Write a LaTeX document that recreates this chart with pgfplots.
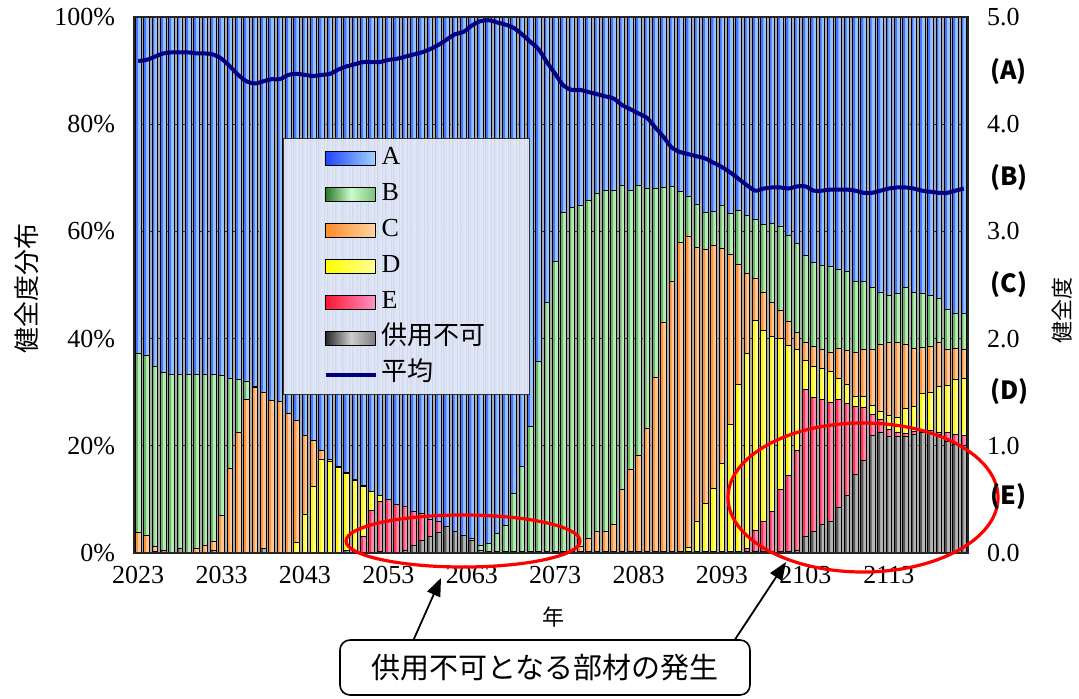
\documentclass[border=0pt]{standalone}
\usepackage{pgfplots}
\pgfplotsset{compat=1.18}
\usepackage{pgfplotstable}
\usetikzlibrary{arrows.meta}
\usepackage{fontspec}
\setmainfont{Liberation Serif}
\newfontfamily\cjk{Noto Sans CJK JP}

% legend swatch gradients
\definecolor{cAl}{RGB}{30,70,255}
\definecolor{cAr}{RGB}{165,210,255}
\definecolor{cBl}{RGB}{40,120,40}
\definecolor{cBm}{RGB}{205,250,205}
\definecolor{cBr}{RGB}{120,195,120}
\definecolor{cCl}{RGB}{255,140,40}
\definecolor{cCr}{RGB}{255,212,165}
\definecolor{cDl}{RGB}{255,255,0}
\definecolor{cDr}{RGB}{255,255,150}
\definecolor{cEl}{RGB}{255,20,50}
\definecolor{cEr}{RGB}{255,150,200}
\definecolor{cGl}{RGB}{40,40,40}
\definecolor{cGm}{RGB}{205,205,205}
\definecolor{cGr}{RGB}{125,125,125}
% bar tones: base (light) and strip (dark, left side)
\definecolor{bA}{RGB}{150,195,255}
\definecolor{sA}{RGB}{70,115,255}
\definecolor{bB}{RGB}{182,236,182}
\definecolor{sB}{RGB}{105,180,105}
\definecolor{bC}{RGB}{255,200,150}
\definecolor{sC}{RGB}{255,145,55}
\definecolor{bD}{RGB}{255,255,135}
\definecolor{sD}{RGB}{255,245,0}
\definecolor{bE}{RGB}{255,140,180}
\definecolor{sE}{RGB}{255,55,85}
\definecolor{bG}{RGB}{180,180,180}
\definecolor{sG}{RGB}{85,85,85}
\definecolor{navyline}{RGB}{0,0,128}
\definecolor{legbg}{RGB}{228,234,248}
\definecolor{gapgray}{RGB}{170,170,170}

\tikzset{
 shA/.style={left color=cAl, right color=cAr},
 shB/.style={left color=cBl, right color=cBr, middle color=cBm},
 shC/.style={left color=cCl, right color=cCr},
 shD/.style={left color=cDl, right color=cDr},
 shE/.style={left color=cEl, right color=cEr},
 shG/.style={left color=cGl, right color=cGr, middle color=cGm},
}

\pgfplotstableread{
x G E D C B A L
0 0 0 0 3.9 33.4 62.7 4.59
1 0 0 0 3.2 33.6 63.2 4.60
2 0.3 0 0 1.0 33.5 65.2 4.63
3 0.5 0 0 0 33.2 66.3 4.66
4 0 0 0 0 33.4 66.6 4.67
5 0.8 0 0 0 32.6 66.6 4.67
6 0 0 0 0 33.4 66.6 4.67
7 0 0 0 0.8 32.6 66.6 4.66
8 0 0 0 1.5 31.9 66.6 4.66
9 0.5 0 0 1.7 31.2 66.6 4.65
10 0 0 0 7.0 26.2 66.8 4.61
11 0 0 0 15.8 16.8 67.4 4.54
12 0 0 0 22.4 9.9 67.7 4.46
13 0 0 0 28.6 3.5 67.9 4.40
14 0 0 0 30.8 0.2 69.0 4.38
15 0.8 0 0 29.2 0 70.0 4.40
16 0 0 0 28.4 0 71.6 4.42
17 0 0 0 28.2 0 71.8 4.42
18 0 0 0 26.0 0 74.0 4.46
19 0 0 2.0 22.8 0 75.2 4.47
20 0 0 7.2 14.8 0 78.0 4.46
21 0 0 12.5 8.5 0 79.0 4.45
22 0 0 17.4 1.8 0 80.8 4.46
23 0 0 17.1 0.4 0 82.5 4.47
24 0 0 16.0 0.2 0 83.8 4.51
25 0.5 0 14.4 0.1 0 85.0 4.54
26 0 0 13.6 0.2 0 86.2 4.56
27 0 3.0 9.4 0.2 0 87.4 4.58
28 0 7.9 3.5 0.1 0 88.5 4.58
29 0.3 9.3 1.2 0 0 89.2 4.58
30 0 10.0 0 0 0 90.0 4.60
31 0 9.1 0 0 0 90.9 4.61
32 0.5 8.1 0 0 0 91.4 4.63
33 1.5 6.2 0 0 0 92.3 4.65
34 2.4 5.0 0 0 0 92.6 4.67
35 3.0 3.3 0 0 0 93.7 4.70
36 3.8 2.0 0 0 0 94.2 4.74
37 4.9 0 0 0 0 95.1 4.79
38 4.0 0 0 0 0 96.0 4.84
39 3.2 0 0 0 0 96.8 4.86
40 2.4 0 0 0 0.3 97.3 4.92
41 0.5 0 0 0 1.0 98.5 4.96
42 0.3 0 0 0 1.5 98.2 4.97
43 0.3 0 0 0 3.4 96.3 4.95
44 0.3 0 0 0 4.9 94.8 4.93
45 0.3 0 0 0 10.8 88.9 4.90
46 0.3 0 0 0 15.8 83.9 4.84
47 0.3 0 0 0 23.3 76.4 4.77
48 0.3 0 0 0 35.4 64.3 4.70
49 0.3 0 0 0 46.5 53.2 4.58
50 0.3 0 0 0 54.1 45.6 4.47
51 0.3 0 0 0 63.2 36.5 4.36
52 0.3 0 0 0.2 63.9 35.6 4.32
53 0.3 0 0 0.9 63.6 35.2 4.32
54 0.3 0 0 2.4 63.0 34.3 4.30
55 0.3 0 0 3.7 63.0 33.0 4.28
56 0.3 0 0 3.7 63.7 32.3 4.26
57 0.3 0 0 5.0 62.4 32.3 4.24
58 0.3 0 0 11.5 56.7 31.5 4.18
59 0.3 0 0 15.3 52.1 32.3 4.14
60 0.3 0 0 17.9 50.4 31.4 4.10
61 0.3 0 0 22.9 44.9 31.9 4.06
62 0.3 0 0 32.5 35.3 31.9 3.97
63 0.3 0 0 42.8 25.1 31.8 3.88
64 0.3 0 0 50.4 17.6 31.7 3.78
65 0.3 0 0 57.7 9.5 32.5 3.74
66 0.3 0 0.8 57.9 7.6 33.4 3.72
67 0.3 0 5.5 51.3 8.0 34.9 3.70
68 0.3 0 9.0 47.3 6.9 36.5 3.68
69 0.3 0 11.8 45.2 6.5 36.2 3.64
70 0.3 0 16.4 40.1 8.1 35.1 3.60
71 0.3 0 23.7 31.7 7.6 36.7 3.55
72 0.3 0 31.2 22.4 10.0 36.1 3.49
73 0.3 0.5 36.5 14.9 10.8 37.0 3.43
74 0.3 4.0 39.1 7.8 11.0 37.8 3.38
75 0.3 5.5 35.7 7.1 12.7 38.7 3.40
76 0.3 7.4 32.7 6.4 14.7 38.5 3.41
77 0.3 11.5 28.3 5.1 15.7 39.1 3.41
78 0.3 14.1 24.3 4.5 16.1 40.7 3.40
79 0.5 18.7 18.7 3.3 16.5 42.3 3.42
80 3.0 27.5 5.5 3.2 16.3 44.5 3.42
81 4.1 24.9 5.8 3.7 15.7 45.8 3.38
82 5.4 23.3 5.7 3.5 15.7 46.4 3.38
83 5.8 22.3 5.8 3.5 16.1 46.5 3.39
84 8.5 20.1 4.0 5.5 14.8 47.1 3.39
85 10.8 17.1 3.6 6.3 14.7 47.5 3.39
86 14.7 12.6 1.9 8.3 13.1 49.4 3.38
87 17.3 9.8 2.1 8.7 12.7 49.4 3.36
88 22.0 3.8 1.8 10.3 11.7 50.4 3.36
89 22.4 2.6 1.4 12.5 9.7 51.4 3.38
90 21.8 1.2 2.7 13.5 8.9 51.9 3.40
91 21.8 0.7 2.8 13.9 9.2 51.6 3.41
92 21.8 0.5 4.7 11.9 10.7 50.4 3.41
93 22.1 0.5 4.8 10.7 10.5 51.4 3.40
94 22.4 0.3 7.0 8.7 10.0 51.6 3.38
95 22.4 0.4 7.1 8.7 9.5 51.9 3.37
96 22.1 0.4 8.5 8.2 8.2 52.6 3.36
97 20.8 1.6 8.9 6.6 7.6 54.5 3.36
98 20.2 1.9 10.2 5.8 6.6 55.3 3.38
99 20.0 2.0 10.5 5.5 6.7 55.3 3.40
}\data

\pgfplotsset{
  common/.style={at={(0pt,0pt)}, anchor=south west,
    scale only axis, width=417pt, height=268pt,
    xmin=-0.5, xmax=99.5},
  barax/.style={common, ymin=0, ymax=100, ybar stacked, bar width=0.68},
}

\begin{document}
\begin{tikzpicture}
\path[use as bounding box] (-67pt,-72.5pt) rectangle (472.5pt,276.5pt);
% 1: grid, ticks and light base of every bar
\begin{axis}[barax,
 axis background/.style={fill=gapgray},
 xtick={0,10,...,90},
 xticklabels={2023,2033,2043,2053,2063,2073,2083,2093,2103,2113},
 ytick={0,20,...,100},
 yticklabels={0\%,20\%,40\%,60\%,80\%,100\%},
 major tick length=0pt,
 tick label style={font=\fontsize{13}{15}\selectfont},
 yticklabel style={xshift=-6pt},
 xticklabel style={yshift=-3pt},
 ymajorgrids,
 grid style={black!85, dash pattern=on 2.5pt off 1.5pt, line width=0.5pt},
 axis line style={draw=none},
]
\addplot[fill=bG, draw=none] table[x=x,y=G]{\data};
\addplot[fill=bE, draw=none] table[x=x,y=E]{\data};
\addplot[fill=bD, draw=none] table[x=x,y=D]{\data};
\addplot[fill=bC, draw=none] table[x=x,y=C]{\data};
\addplot[fill=bB, draw=none] table[x=x,y=B]{\data};
\addplot[fill=bA, draw=none] table[x=x,y=A]{\data};
\end{axis}
% 2: darker left strip of every bar
\begin{axis}[common, ymin=0, ymax=100, ybar stacked, bar width=0.27, bar shift=-0.18, hide axis]
\addplot[fill=sG, draw=none] table[x=x,y=G]{\data};
\addplot[fill=sE, draw=none] table[x=x,y=E]{\data};
\addplot[fill=sD, draw=none] table[x=x,y=D]{\data};
\addplot[fill=sC, draw=none] table[x=x,y=C]{\data};
\addplot[fill=sB, draw=none] table[x=x,y=B]{\data};
\addplot[fill=sA, draw=none] table[x=x,y=A]{\data};
\end{axis}
% 3: outlines of every bar, and the legend
\begin{axis}[barax, hide axis,
 reverse legend,
 legend cell align=left,
 legend style={at={(0.1787,0.7743)}, anchor=north west,
   draw=black!80, line width=0.6pt,
   fill=legbg, fill opacity=0.93, text opacity=1, draw opacity=1,
   inner xsep=20pt, inner ysep=1pt,
   font=\fontsize{13}{15}\selectfont,
   nodes={text height=10pt, text depth=4pt, inner sep=2pt}},
]
\addlegendimage{legend image code/.code={\draw[navyline, line width=2pt, opacity=1] (0pt,0pt) -- (25pt,0pt);}}
\addlegendentry{\cjk 平均}
\addplot[fill=none, draw=black, line width=0.45pt, legend image code/.code={\draw[shG, draw=black, line width=0.5pt, fill opacity=1] (0pt,-3.5pt) rectangle (25pt,3.5pt);}] table[x=x,y=G]{\data};
\addlegendentry{\cjk 供用不可}
\addplot[fill=none, draw=black, line width=0.45pt, legend image code/.code={\draw[shE, draw=black, line width=0.5pt, fill opacity=1] (0pt,-3.5pt) rectangle (25pt,3.5pt);}] table[x=x,y=E]{\data};
\addlegendentry{E}
\addplot[fill=none, draw=black, line width=0.45pt, legend image code/.code={\draw[shD, draw=black, line width=0.5pt, fill opacity=1] (0pt,-3.5pt) rectangle (25pt,3.5pt);}] table[x=x,y=D]{\data};
\addlegendentry{D}
\addplot[fill=none, draw=black, line width=0.45pt, legend image code/.code={\draw[shC, draw=black, line width=0.5pt, fill opacity=1] (0pt,-3.5pt) rectangle (25pt,3.5pt);}] table[x=x,y=C]{\data};
\addlegendentry{C}
\addplot[fill=none, draw=black, line width=0.45pt, legend image code/.code={\draw[shB, draw=black, line width=0.5pt, fill opacity=1] (0pt,-3.5pt) rectangle (25pt,3.5pt);}] table[x=x,y=B]{\data};
\addlegendentry{B}
\addplot[fill=none, draw=black, line width=0.45pt, legend image code/.code={\draw[shA, draw=black, line width=0.5pt, fill opacity=1] (0pt,-3.5pt) rectangle (25pt,3.5pt);}] table[x=x,y=A]{\data};
\addlegendentry{A}
\end{axis}
% 4: right axis, average line and frame
\begin{axis}[common, ymin=0, ymax=5,
 xtick=\empty,
 ytick pos=right, yticklabel pos=right,
 ytick={0,1,...,5},
 yticklabels={0.0,1.0,2.0,3.0,4.0,5.0},
 major tick length=0pt,
 tick label style={font=\fontsize{13}{15}\selectfont},
 yticklabel style={xshift=6pt},
 axis line style={black!85, line width=0.8pt},
]
\addplot[smooth, color=navyline, line width=2pt, mark=none] table[x=x,y=L]{\data};
\end{axis}
% annotations
\draw[red, line width=1.6pt] (164.5pt,6pt) ellipse [x radius=58.5pt, y radius=13pt];
\draw[red, line width=1.6pt] (364.5pt,27.75pt) ellipse [x radius=67.5pt, y radius=37.25pt];
\node[font=\cjk\fontsize{11}{13}\selectfont] at (209.5pt,-32pt) {年};
\node[rotate=90, font=\cjk\fontsize{13}{15}\selectfont] at (-53.5pt,132.5pt) {健全度分布};
\node[rotate=90, font=\cjk\fontsize{11}{13}\selectfont] at (464pt,121.5pt) {健全度};
\foreach \lab/\yy in {(A)/240.5, (B)/187.5, (C)/134, (D)/80.5, (E)/28}{
  \node[anchor=west, inner sep=0pt, font=\cjk\bfseries\fontsize{12.5}{14}\selectfont] at (428pt,\yy pt) {\lab};
}
\draw[line width=0.9pt, -{Triangle[length=9pt,width=7pt]}] (139.5pt,-44pt) -- (153.5pt,-12.5pt);
\draw[line width=0.9pt, -{Triangle[length=9pt,width=7pt]}] (300pt,-44pt) -- (326pt,-4.5pt);
\node[draw, rounded corners=5pt, line width=0.8pt, fill=white, minimum width=205pt, minimum height=27.5pt, inner sep=0pt, font=\cjk\fontsize{14.5}{16}\selectfont] at (205.5pt,-57.25pt) {供用不可となる部材の発生};
\end{tikzpicture}
\end{document}
